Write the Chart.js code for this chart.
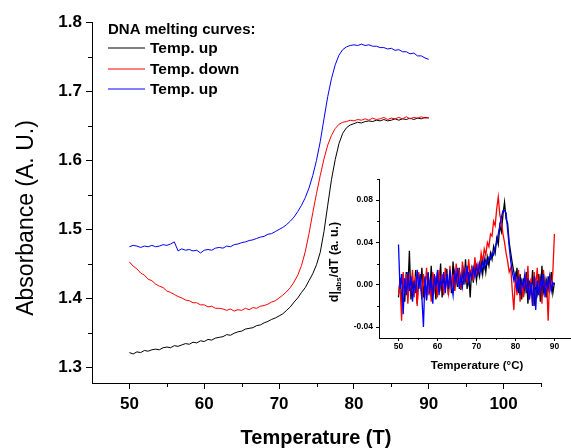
<!DOCTYPE html>
<html><head><meta charset="utf-8">
<script src="https://cdn.jsdelivr.net/npm/chart.js@4.4.1/dist/chart.umd.min.js"></script>
<style>
html,body{margin:0;padding:0;background:#fff;}
#wrap{position:relative;width:571px;height:448px;overflow:hidden;background:#fff;}
#main{position:absolute;left:0;top:0;}
#inset{position:absolute;left:320px;top:168px;}
</style></head><body>
<div id="wrap"><canvas id="main" width="571" height="448"></canvas><canvas id="inset" width="251" height="222"></canvas></div>
<script>
const FONT = '"Liberation Sans", Arial, sans-serif';

// ---- main chart data ----
const tempMain = [50,50.5,51,51.5,52,52.5,53,53.5,54,54.5,55,55.5,56,56.5,57,57.5,58,58.5,59,59.5,
60,60.5,61,61.5,62,62.5,63,63.5,64,64.5,65,65.5,66,66.5,67,67.5,68,68.5,69,69.5,
70,70.5,71,71.5,72,72.5,73,73.5,74,74.5,75,75.5,76,76.5,77,77.5,78,78.5,79,79.5,
80,80.5,81,81.5,82,82.5,83,83.5,84,84.5,85,85.5,86,86.5,87,87.5,88,88.5,89,89.5,90];
const absUp1 = [1.322,1.320,1.323,1.322,1.325,1.324,1.326,1.327,1.326,1.329,1.330,1.329,1.332,1.331,1.333,1.335,1.334,1.337,1.336,1.339,
1.338,1.341,1.340,1.343,1.344,1.345,1.348,1.347,1.350,1.352,1.353,1.356,1.357,1.358,1.361,1.362,1.365,1.367,1.370,1.372,
1.375,1.378,1.383,1.388,1.395,1.401,1.409,1.416,1.426,1.436,1.449,1.467,1.497,1.535,1.572,1.601,1.624,1.639,1.647,1.651,
1.653,1.655,1.654,1.656,1.657,1.656,1.658,1.657,1.659,1.657,1.658,1.660,1.658,1.660,1.659,1.661,1.659,1.661,1.660,1.662,1.661];
const absDown = [1.453,1.447,1.443,1.437,1.434,1.428,1.426,1.421,1.418,1.416,1.411,1.409,1.406,1.403,1.401,1.398,1.397,1.394,1.394,1.391,
1.391,1.388,1.389,1.386,1.386,1.385,1.383,1.385,1.382,1.384,1.383,1.386,1.384,1.387,1.386,1.389,1.390,1.392,1.395,1.397,
1.401,1.405,1.410,1.416,1.424,1.434,1.448,1.468,1.494,1.524,1.552,1.578,1.602,1.622,1.636,1.646,1.652,1.655,1.656,1.658,
1.657,1.659,1.658,1.660,1.658,1.661,1.659,1.660,1.662,1.659,1.661,1.660,1.662,1.660,1.663,1.660,1.662,1.661,1.663,1.661,1.662];
const absUp2 = [1.475,1.477,1.476,1.474,1.476,1.475,1.477,1.475,1.476,1.478,1.477,1.479,1.482,1.469,1.472,1.470,1.471,1.469,1.470,1.466,
1.470,1.471,1.470,1.473,1.474,1.473,1.476,1.475,1.478,1.479,1.481,1.482,1.484,1.485,1.487,1.489,1.490,1.493,1.494,1.497,
1.500,1.503,1.507,1.512,1.518,1.526,1.535,1.546,1.560,1.578,1.600,1.627,1.660,1.692,1.718,1.738,1.752,1.760,1.764,1.766,
1.767,1.766,1.768,1.766,1.767,1.765,1.765,1.763,1.763,1.761,1.762,1.759,1.760,1.757,1.757,1.754,1.755,1.751,1.751,1.748,1.746];
const seriesLabels = ['Temp. up','Temp. down','Temp. up'];
const seriesColors = ['#000000','#ff0000','#0000ff'];
const legendTitle = 'DNA melting curves:';
const xTitleMain = 'Temperature (T)';
const yTitleMain = 'Absorbance (A. U.)';
const xTicksMain = [50,60,70,80,90,100];
const xMinorMain = [55,65,75,85,95,105];
const yTicksMain = [1.3,1.4,1.5,1.6,1.7,1.8];
const yMinorMain = [1.35,1.45,1.55,1.65,1.75];

// ---- inset data (derivative) ----
const tempInset = [50,50.4,50.8,51.2,51.6,52,52.4,52.8,53.2,53.6,54,54.4,54.8,55.2,55.6,56,56.4,56.8,57.2,57.6,
58,58.4,58.8,59.2,59.6,60,60.4,60.8,61.2,61.6,62,62.4,62.8,63.2,63.6,64,64.4,64.8,65.2,65.6,
66,66.4,66.8,67.2,67.6,68,68.4,68.8,69.2,69.6,70,70.4,70.8,71.2,71.6,72,72.4,72.8,73.2,73.6,
74,74.4,74.8,75.2,75.6,76,76.4,76.8,77.2,77.6,78,78.4,78.8,79.2,79.6,80,80.4,80.8,81.2,81.6,
82,82.4,82.8,83.2,83.6,84,84.4,84.8,85.2,85.6,86,86.4,86.8,87.2,87.6,88,88.4,88.8,89.2,89.6,90];
const dUp1 = [-0.012,0.006,-0.020,0.010,-0.016,0.012,-0.006,0.032,-0.014,0.004,
-0.010,0.014,-0.018,0.008,-0.004,0.016,-0.012,0.006,-0.015,0.011,
-0.008,0.018,-0.010,0.005,-0.014,0.012,-0.006,0.020,-0.012,0.008,
-0.004,0.015,-0.010,0.010,-0.008,0.022,-0.006,0.012,-0.002,0.016,
-0.005,0.014,0.000,0.024,-0.004,0.012,-0.012,0.018,0.002,0.020,
0.004,0.016,0.008,0.022,0.010,0.024,0.012,0.026,0.018,0.030,
0.024,0.036,0.030,0.044,0.038,0.056,0.050,0.066,0.078,0.062,
0.058,0.040,0.030,0.020,0.012,0.002,0.016,-0.008,0.010,-0.014,
0.006,-0.006,0.012,-0.018,0.004,-0.010,0.014,-0.020,0.002,-0.008,
0.010,-0.016,0.018,-0.006,0.004,-0.012,0.008,-0.004,0.012,-0.008,0.002];
const dDown = [-0.010,0.004,-0.034,0.012,-0.008,0.010,-0.018,0.006,-0.004,0.014,
-0.012,0.008,-0.020,0.012,0.000,-0.014,0.010,-0.006,0.016,-0.010,
0.004,-0.016,0.012,-0.004,0.008,-0.012,0.014,-0.002,0.010,-0.010,
0.016,0.002,-0.008,0.018,-0.004,0.010,-0.006,0.020,0.004,0.012,
-0.004,0.022,0.006,0.014,0.002,0.024,0.008,0.016,0.004,0.026,
0.012,0.020,0.014,0.030,0.022,0.034,0.028,0.040,0.036,0.048,
0.046,0.060,0.056,0.072,0.083,0.066,0.060,0.048,0.040,0.030,
0.022,0.012,0.016,-0.006,-0.024,0.008,-0.010,0.014,-0.016,0.004,
-0.012,0.010,-0.006,0.018,-0.014,0.006,-0.020,0.012,-0.002,0.016,
-0.010,0.008,-0.018,0.014,-0.008,0.004,-0.034,0.010,-0.006,0.012,0.048];
const dUp2 = [0.038,-0.004,0.010,-0.028,0.006,-0.010,0.012,-0.006,0.008,-0.016,
0.004,-0.008,0.014,-0.004,0.010,-0.012,-0.040,0.008,-0.014,0.012,
-0.006,0.004,-0.018,0.010,-0.004,0.014,-0.010,0.006,-0.002,0.012,
-0.008,0.010,-0.004,0.014,0.000,-0.010,0.012,0.002,0.016,-0.004,
0.008,-0.002,0.014,0.004,0.018,0.002,0.012,0.006,0.016,0.008,
0.018,0.010,0.020,0.012,0.022,0.016,0.024,0.020,0.026,0.024,
0.030,0.028,0.036,0.040,0.048,0.056,0.064,0.070,0.070,0.068,
0.052,0.036,0.022,0.012,0.004,0.010,-0.006,0.008,-0.010,0.004,
-0.002,0.010,-0.008,0.006,-0.014,0.002,-0.020,0.008,-0.024,0.004,
-0.010,0.006,-0.006,0.010,-0.012,0.004,-0.004,0.008,-0.006,0.002,0.000];
const xTitleInset = 'Temperature (°C)';
const yTitleInsetParts = ['d|', 'abs', '/dT (a. u.)'];
const xTicksInset = [50,60,70,80,90];
const xMinorInset = [55,65,75,85];
const yTicksInset = [-0.04,0,0.04,0.08];
const yMinorInset = [-0.02,0.02,0.06,0.10];

function pts(xs, ys){ return xs.map((x,i)=>({x:x, y:ys[i]})); }

function minorTicks(chart, xs, ys, len){
  const ctx = chart.ctx, sx = chart.scales.x, sy = chart.scales.y, a = chart.chartArea;
  ctx.save(); ctx.strokeStyle = '#000'; ctx.lineWidth = 1; ctx.beginPath();
  xs.forEach(v=>{ const p = Math.round(sx.getPixelForValue(v))+0.5; ctx.moveTo(p, a.bottom); ctx.lineTo(p, a.bottom+len); });
  ys.forEach(v=>{ const p = Math.round(sy.getPixelForValue(v))+0.5; ctx.moveTo(a.left, p); ctx.lineTo(a.left-len, p); });
  ctx.stroke(); ctx.restore();
}

const mainDecor = {
  id:'mainDecor',
  beforeDraw(chart){ const c=chart.ctx; c.save(); c.fillStyle='#fff'; c.fillRect(0,0,chart.width,chart.height); c.restore(); },
  afterDraw(chart){
    const ctx = chart.ctx;
    minorTicks(chart, xMinorMain, yMinorMain, 4);
    ctx.save();
    ctx.fillStyle = '#000';
    ctx.textAlign = 'center'; ctx.textBaseline = 'middle';
    ctx.font = 'bold 20px ' + FONT;
    ctx.fillText(xTitleMain, 316, 438);
    ctx.save(); ctx.translate(27, 218); ctx.rotate(-Math.PI/2);
    ctx.font = '23px ' + FONT; ctx.fillText(yTitleMain, 0, 0); ctx.restore();
    // legend
    ctx.textAlign = 'left';
    ctx.font = 'bold 15px ' + FONT;
    ctx.fillText(legendTitle, 108, 30);
    ctx.font = 'bold 15.5px ' + FONT;
    seriesLabels.forEach((lab,i)=>{
      const y = 48 + i*20.5;
      ctx.strokeStyle = seriesColors[i]; ctx.lineWidth = 1;
      ctx.beginPath(); ctx.moveTo(108, Math.round(y)); ctx.lineTo(145, Math.round(y)); ctx.stroke();
      ctx.fillText(lab, 150, y+1);
    });
    ctx.restore();
  }
};

const insetDecor = {
  id:'insetDecor',
  afterDraw(chart){
    const ctx = chart.ctx;
    minorTicks(chart, xMinorInset, yMinorInset, 2);
    ctx.save(); ctx.fillStyle = '#000';
    ctx.textAlign = 'center'; ctx.textBaseline = 'middle';
    ctx.font = 'bold 11.5px ' + FONT;
    ctx.fillText(xTitleInset, 157, 198);
    // rotated y title with subscript
    ctx.translate(15, 94); ctx.rotate(-Math.PI/2);
    ctx.textAlign = 'left';
    const big = 'bold 12.5px ' + FONT, small = 'bold 8px ' + FONT;
    ctx.font = big; const w0 = ctx.measureText(yTitleInsetParts[0]).width;
    ctx.font = small; const w1 = ctx.measureText(yTitleInsetParts[1]).width;
    ctx.font = big; const w2 = ctx.measureText(yTitleInsetParts[2]).width;
    let x = -(w0+w1+w2)/2;
    ctx.font = big; ctx.fillText(yTitleInsetParts[0], x, 0); x += w0;
    ctx.font = small; ctx.fillText(yTitleInsetParts[1], x, 4); x += w1;
    ctx.font = big; ctx.fillText(yTitleInsetParts[2], x, 0);
    ctx.restore();
  }
};

function axisCfg(min, max, ticksArr, fmt, fontSize, tickLen, pad, fit){
  return {
    type:'linear', min:min, max:max,
    afterBuildTicks: s => { s.ticks = ticksArr.map(v=>({value:v})); },
    afterFit: fit,
    grid:{ drawOnChartArea:false, drawTicks:true, tickLength:tickLen, color:'#000', lineWidth:1 },
    border:{ display:true, color:'#000', width:1 },
    ticks:{ font:{family:FONT, size:fontSize, weight:'bold'}, color:'#000', padding:pad, maxRotation:0, autoSkip:false, callback: fmt }
  };
}

const common = {
  responsive:false, animation:false, devicePixelRatio:1,
  plugins:{ legend:{display:false}, tooltip:{enabled:false} },
  elements:{ point:{radius:0}, line:{tension:0, borderWidth:1} }
};

new Chart(document.getElementById('main'), {
  type:'line',
  data:{ datasets:[
    {label:seriesLabels[0], data:pts(tempMain, absUp1), borderColor:seriesColors[0], order:2},
    {label:seriesLabels[1], data:pts(tempMain, absDown), borderColor:seriesColors[1], order:1},
    {label:seriesLabels[2], data:pts(tempMain, absUp2), borderColor:seriesColors[2], order:0}
  ]},
  options: Object.assign({}, common, {
    layout:{ padding:{left:0, top:22, right:30, bottom:0} },
    scales:{
      x: axisCfg(45, 105, xTicksMain, v=>String(v), 17, 6, 5, s=>{ s.height = 65; }),
      y: axisCfg(1.278, 1.8, yTicksMain, v=>Number(v).toFixed(1), 17, 6, 4, s=>{ s.width = 92; })
    }
  }),
  plugins:[mainDecor]
});

new Chart(document.getElementById('inset'), {
  type:'line',
  data:{ datasets:[
    {label:seriesLabels[0], data:pts(tempInset, dUp1), borderColor:seriesColors[0], borderWidth:1.3, order:2},
    {label:seriesLabels[1], data:pts(tempInset, dDown), borderColor:seriesColors[1], borderWidth:1.3, order:1},
    {label:seriesLabels[2], data:pts(tempInset, dUp2), borderColor:seriesColors[2], borderWidth:1.3, order:0}
  ]},
  options: Object.assign({}, common, {
    layout:{ padding:{left:0, top:11, right:1, bottom:0} },
    scales:{
      x: axisCfg(45, 94, xTicksInset, v=>String(v), 8.5, 3, 1, s=>{ s.height = 52; }),
      y: axisCfg(-0.0504, 0.10, yTicksInset, v=>Number(v).toFixed(2), 8.5, 3, 3, s=>{ s.width = 59; })
    }
  }),
  plugins:[insetDecor]
});
</script>
</body></html>
